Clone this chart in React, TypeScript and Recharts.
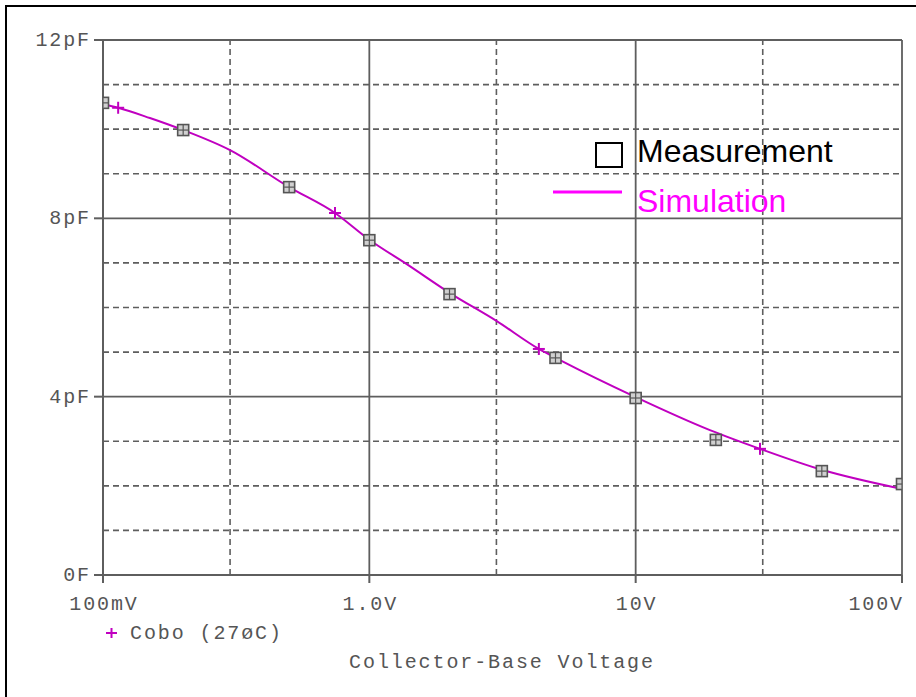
import React from "react";
import {
  ComposedChart,
  Line,
  Scatter,
  XAxis,
  YAxis,
  ReferenceLine,
} from "recharts";

// axis ticks
const voltTicks = [0.1, 1, 10, 100];
const voltTickLabels = ["100mV", "1.0V", "10V", "100V"];
const capTicks = [0, 4, 8, 12];
const capTickLabels = ["0F", "4pF", "8pF", "12pF"];
const voltMinorGrid = [0.3, 3, 30];
const voltMajorGrid = [1, 10, 100];
const capMinorGrid = [1, 2, 3, 5, 6, 7, 9, 10, 11];
const capMajorGrid = [4, 8, 12];

// measured Cobo (squares)
const measVolts = [0.1, 0.2, 0.5, 1, 2, 5, 10, 20, 50, 100];
const measCap = [10.59, 9.98, 8.7, 7.51, 6.3, 4.87, 3.97, 3.03, 2.33, 2.04];

// simulated Cobo (line)
const simVolts = [0.1, 0.114, 0.15, 0.2, 0.3, 0.5, 0.743, 1, 1.4, 2, 3, 4.33, 5.2, 10, 19, 29.3, 50, 100];
const simCap = [10.56, 10.48, 10.25, 9.98, 9.53, 8.7, 8.12, 7.52, 6.95, 6.33, 5.7, 5.07, 4.82, 3.99, 3.25, 2.83, 2.36, 1.93];

// PSpice trace markers on the simulation
const simMarkVolts = [0.114, 0.743, 4.33, 29.3];
const simMarkCap = [10.48, 8.12, 5.07, 2.83];

const measData = measVolts.map((v, i) => ({ v, c: measCap[i] }));
const simData = simVolts.map((v, i) => ({ v, c: simCap[i] }));
const simMarkData = simMarkVolts.map((v, i) => ({ v, c: simMarkCap[i] }));

const GRID = "#5e5e5e";
const TRACE = "#c000c0";
const MONO = "'Liberation Mono', 'DejaVu Sans Mono', monospace";
const monoText = { fontFamily: MONO, fontSize: 20, letterSpacing: 1.9, fill: "#555" };

const XTick = (props: any) => {
  const { x, y, payload, index } = props;
  const last = index === voltTicks.length - 1;
  return (
    <text x={last ? x + 2 : x + 1} y={y + 25} textAnchor={last ? "end" : "middle"} {...monoText}>
      {voltTickLabels[voltTicks.indexOf(payload.value)]}
    </text>
  );
};

const YTick = (props: any) => {
  const { x, y, payload } = props;
  return (
    <text x={x + 1} y={y + 6} textAnchor="end" {...monoText}>
      {capTickLabels[capTicks.indexOf(payload.value)]}
    </text>
  );
};

const SquareMark = (props: any) => {
  const { cx, cy } = props;
  if (cx == null || cy == null) return null;
  return (
    <g>
      <rect x={cx - 5.5} y={cy - 5.5} width={11} height={11} fill="#d0d0d0" stroke="#555" strokeWidth={1.6} />
      <line x1={cx} y1={cy - 5} x2={cx} y2={cy + 5} stroke="#555" strokeWidth={1.2} />
      <line x1={cx - 5} y1={cy} x2={cx + 5} y2={cy} stroke="#555" strokeWidth={1.2} />
    </g>
  );
};

const PlusMark = (props: any) => {
  const { cx, cy } = props;
  if (cx == null || cy == null) return null;
  return (
    <g stroke={TRACE} strokeWidth={2}>
      <line x1={cx - 6} y1={cy} x2={cx + 6} y2={cy} />
      <line x1={cx} y1={cy - 6} x2={cx} y2={cy + 6} />
    </g>
  );
};

export default function App() {
  return (
    <div style={{ position: "absolute", left: 0, top: 0, width: 916, height: 697, overflow: "hidden", background: "#fff" }}>
      <div style={{ position: "absolute", left: 5, top: 5, width: 940, height: 740, border: "2px solid #000" }} />
      <div style={{ position: "absolute", left: 0, top: 0 }}>
        <ComposedChart width={916} height={697} margin={{ top: 40, right: 14, bottom: 92, left: 43 }}>
          <XAxis
            dataKey="v"
            type="number"
            scale="log"
            domain={[0.1, 100]}
            allowDataOverflow
            ticks={voltTicks}
            tick={<XTick />}
            tickSize={8}
            tickMargin={2}
            height={30}
            axisLine={{ stroke: GRID, strokeWidth: 2 }}
            tickLine={{ stroke: GRID, strokeWidth: 2 }}
          />
          <YAxis
            dataKey="c"
            type="number"
            domain={[0, 12]}
            ticks={capTicks}
            tick={<YTick />}
            tickSize={9}
            tickMargin={4}
            width={60}
            axisLine={{ stroke: GRID, strokeWidth: 2 }}
            tickLine={{ stroke: GRID, strokeWidth: 2 }}
          />
          {capMinorGrid.map((c) => (
            <ReferenceLine key={`hc${c}`} y={c} stroke={GRID} strokeWidth={1.6} strokeDasharray="6 4" />
          ))}
          {voltMinorGrid.map((v) => (
            <ReferenceLine key={`vv${v}`} x={v} stroke={GRID} strokeWidth={1.6} strokeDasharray="6 4" />
          ))}
          {capMajorGrid.map((c) => (
            <ReferenceLine key={`hm${c}`} y={c} stroke={GRID} strokeWidth={1.8} />
          ))}
          {voltMajorGrid.map((v) => (
            <ReferenceLine key={`vm${v}`} x={v} stroke={GRID} strokeWidth={1.8} />
          ))}
          <Line
            data={simData}
            dataKey="c"
            type="monotone"
            stroke={TRACE}
            strokeWidth={2}
            dot={false}
            activeDot={false}
            isAnimationActive={false}
          />
          <Scatter data={measData} dataKey="c" shape={<SquareMark />} isAnimationActive={false} />
          <Scatter data={simMarkData} dataKey="c" shape={<PlusMark />} isAnimationActive={false} />
        </ComposedChart>
      </div>
      <svg width={916} height={697} style={{ position: "absolute", left: 0, top: 0, pointerEvents: "none" }}>
        {/* PSpice trace legend */}
        <g stroke={TRACE} strokeWidth={2}>
          <line x1={106} y1={633} x2={117} y2={633} />
          <line x1={111.5} y1={628} x2={111.5} y2={638} />
        </g>
        <text x={130} y={639} {...monoText}>Cobo (27øC)</text>
        <text x={502} y={668} textAnchor="middle" {...monoText}>Collector-Base Voltage</text>
        {/* inset legend */}
        <rect x={596} y={143} width={26} height={24} fill="#fff" stroke="#000" strokeWidth={2} />
        <text x={637} y={162} fontFamily="'Liberation Sans', Arial, sans-serif" fontSize={32} fill="#000">
          Measurement
        </text>
        <line x1={553} y1={192} x2={622} y2={192} stroke="#ff00ff" strokeWidth={3} />
        <text x={637} y={212} fontFamily="'Liberation Sans', Arial, sans-serif" fontSize={32} fill="#ff00ff">
          Simulation
        </text>
      </svg>
    </div>
  );
}
